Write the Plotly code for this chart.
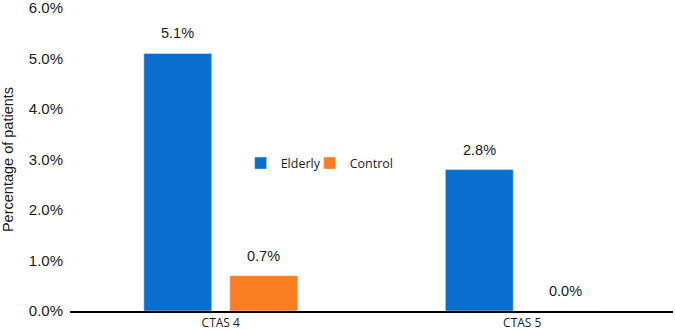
import plotly.graph_objects as go

categories = ["CTAS 4", "CTAS 5"]
elderly = [5.1, 2.8]
control = [0.7, 0.0]
y_ticks = [0, 1, 2, 3, 4, 5, 6]
y_tick_labels = ["0.0%", "1.0%", "2.0%", "3.0%", "4.0%", "5.0%", "6.0%"]

LABEL_FONT = dict(family="Liberation Sans, Arial", size=14.5, color="#1a1a1a")

fig = go.Figure()
fig.add_trace(go.Bar(
    x=categories, y=elderly, name="Elderly", marker_color="#0a6ecf",
    offsetgroup="e", legendwidth=24,
))
fig.add_trace(go.Bar(
    x=categories, y=control, name="Control", marker_color="#fb7d22",
    offsetgroup="c",
))

# data labels via annotations placed above each bar
ncat = len(categories)
slot = (1 - 0.43) / 2  # per-bar slot width in category units
for i, cat in enumerate(categories):
    for j, vals in enumerate([elderly, control]):
        xpos = i - slot / 2 + j * slot
        fig.add_annotation(
            x=xpos, y=vals[i], xref="x", yref="y",
            text=f"{vals[i]:.1f}%", showarrow=False,
            yanchor="middle", yshift=20, font=LABEL_FONT,
        )

fig.update_layout(
    width=675, height=330,
    margin=dict(l=70, r=2, t=8, b=19, autoexpand=False),
    paper_bgcolor="white", plot_bgcolor="white",
    barmode="group", bargap=0.43, bargroupgap=0.21,
    font=dict(family="Liberation Sans, Arial", color="#1a1a1a"),
    legend=dict(
        orientation="h", x=0.283, y=0.487, xanchor="left", yanchor="middle",
        font=dict(family="Open Sans, Liberation Sans", size=12.5, color="#1a1a1a"),
        bgcolor="rgba(0,0,0,0)", traceorder="normal",
    ),
    showlegend=True,
)
fig.update_yaxes(
    range=[0, 6], tickvals=y_ticks, ticktext=y_tick_labels,
    showgrid=False, zeroline=False, showline=False, automargin=False,
    tickfont=dict(family="Liberation Sans, Arial", size=15, color="#1a1a1a"),
    ticklabelstandoff=6, ticklabeloverflow="allow",
    title=dict(text="Percentage of patients", standoff=14,
               font=dict(family="Liberation Sans, Arial", size=14.5, color="#1a1a1a")),
    ticks="", ticklen=0,
)
fig.update_xaxes(
    type="category", range=[-0.5, ncat - 0.5],
    showline=True, linecolor="black", linewidth=1.5,
    showgrid=False, ticks="", automargin=False, ticklabeloverflow="allow",
    tickfont=dict(family="Open Sans, Liberation Sans", size=12, color="#1a1a1a"),
)

fig.write_html("out.html", config={"displayModeBar": False},
               post_script="document.body.style.margin='0';")
